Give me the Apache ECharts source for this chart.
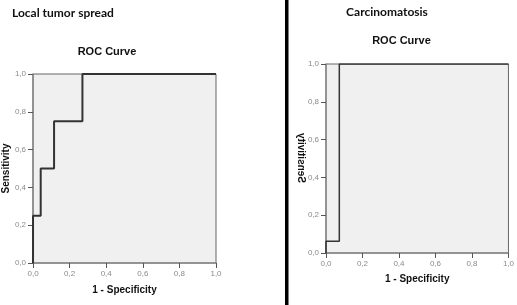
<!DOCTYPE html>
<html>
<head>
<meta charset="utf-8">
<script src="https://cdn.jsdelivr.net/npm/echarts@6/dist/echarts.min.js"></script>
<style>
html,body{margin:0;padding:0;background:#fff;}
#c{width:517px;height:305px;}
</style>
</head>
<body>
<div id="c"></div>
<script>
// ---- data ----
var panelTitles = ['Local tumor spread', 'Carcinomatosis'];
var chartTitle = 'ROC Curve';
var xAxisName = '1 - Specificity';
var yAxisName = 'Sensitivity';
var tickValues = [0, 0.2, 0.4, 0.6, 0.8, 1.0];
var localFpr = [0, 0, 0.042, 0.042, 0.115, 0.115, 0.27, 0.27, 1.0];
var localTpr = [0, 0.25, 0.25, 0.5, 0.5, 0.75, 0.75, 1.0, 1.0];
var carcFpr = [0, 0, 0.073, 0.073, 1.0];
var carcTpr = [0, 0.0625, 0.0625, 1.0, 1.0];

function pairs(xs, ys) { return xs.map(function (x, i) { return [x, ys[i]]; }); }
function fmt(v) { return v.toFixed(1).replace('.', ','); }

var axisCommon = {
  type: 'value', min: 0, max: 1, interval: 0.2,
  axisLine: { show: true, lineStyle: { color: '#8a8a8a', width: 1.5 } },
  axisTick: { show: true, length: 5, lineStyle: { color: '#555', width: 1 } },
  axisLabel: { fontFamily: 'Arial, Liberation Sans', fontSize: 8, color: '#8a8a8a', margin: 7, formatter: fmt },
  splitLine: { show: false },
  nameTextStyle: { fontFamily: 'Arial, Liberation Sans', fontWeight: 'bold', fontSize: 10, color: '#111' }
};
function ax(extra) { return Object.assign({}, JSON.parse(JSON.stringify(axisCommon)), { axisLabel: Object.assign({}, axisCommon.axisLabel) }, extra); }

var chart = echarts.init(document.getElementById('c'), null, { renderer: 'canvas' });
chart.setOption({
  animation: false,
  backgroundColor: '#fff',
  grid: [
    { left: 31, top: 74, width: 185, height: 189, show: true, backgroundColor: '#f0f0f0', borderColor: '#666', borderWidth: 1 },
    { left: 326, top: 64, width: 186, height: 189, show: true, backgroundColor: '#f0f0f0', borderColor: '#666', borderWidth: 1 }
  ],
  xAxis: [
    ax({ gridIndex: 0, name: xAxisName, nameLocation: 'middle', nameGap: 22 }),
    ax({ gridIndex: 1, name: xAxisName, nameLocation: 'middle', nameGap: 21 })
  ],
  yAxis: [
    ax({ gridIndex: 0, name: yAxisName, nameLocation: 'middle', nameGap: 20, nameRotate: 90 }),
    ax({ gridIndex: 1 })
  ],
  series: [
    { type: 'line', xAxisIndex: 0, yAxisIndex: 0, data: pairs(localFpr, localTpr), showSymbol: false, lineStyle: { color: '#333', width: 2 } },
    { type: 'line', xAxisIndex: 1, yAxisIndex: 1, data: pairs(carcFpr, carcTpr), showSymbol: false, lineStyle: { color: '#333', width: 1.5 } }
  ],
  graphic: [
    { type: 'rect', shape: { x: 285, y: 0, width: 3.5, height: 305 }, style: { fill: '#000' } },
    { type: 'text', left: 12, top: 7, style: { text: panelTitles[0], font: 'bold 12px Lato, Open Sans', fill: '#111' } },
    { type: 'text', x: 107, y: 52, style: { text: chartTitle, font: 'bold 11px Arial, Liberation Sans', fill: '#111', align: 'center', verticalAlign: 'middle' } },
    { type: 'text', x: 387, y: 12, style: { text: panelTitles[1], font: 'bold 12px Lato, Open Sans', fill: '#111', align: 'center', verticalAlign: 'middle' } },
    { type: 'text', x: 401.5, y: 41, style: { text: chartTitle, font: 'bold 11px Arial, Liberation Sans', fill: '#111', align: 'center', verticalAlign: 'middle' } },
    { type: 'text', x: 300.5, y: 158, rotation: Math.PI / 2, scaleY: -1, style: { text: yAxisName, font: 'bold 10px Arial, Liberation Sans', fill: '#111', align: 'center', verticalAlign: 'middle' } }
  ]
});
</script>
</body>
</html>
